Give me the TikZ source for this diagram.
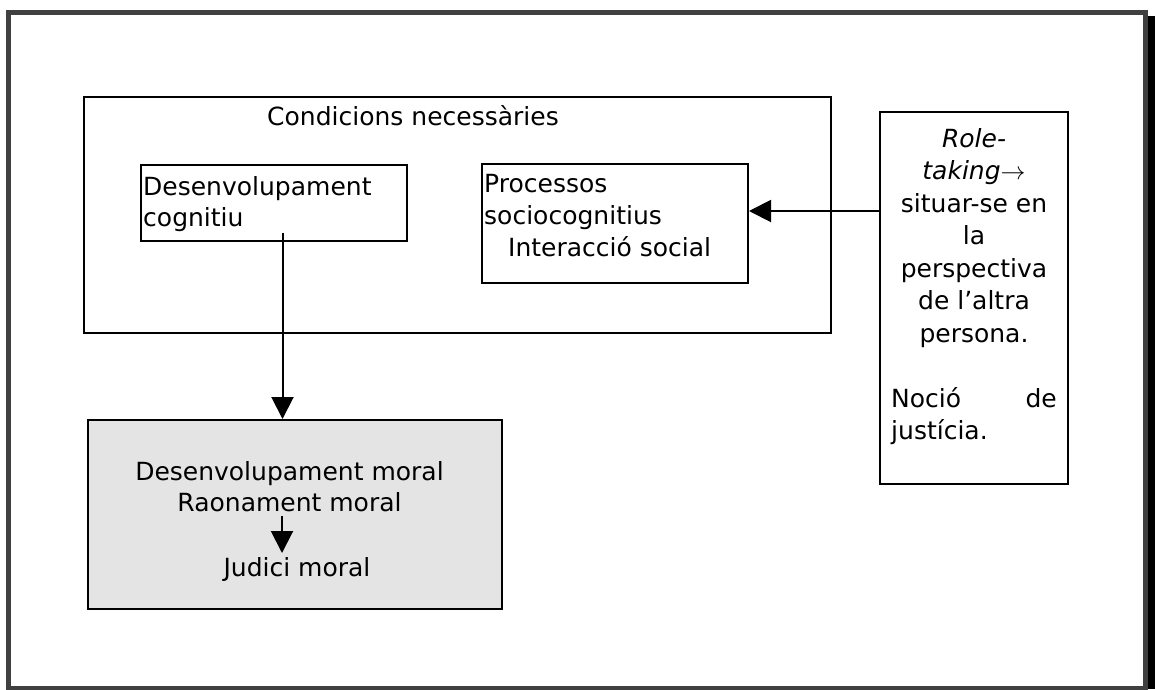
\documentclass[tikz,border=0pt]{standalone}
\usepackage{fontspec}
\setmainfont{DejaVu Sans}
\usetikzlibrary{arrows.meta,calc}
\definecolor{framegray}{HTML}{404040}
\definecolor{boxgray}{HTML}{E4E4E4}

\begin{document}
\begin{tikzpicture}[x=1pt,y=-1pt,
  box/.style={draw=black,line width=2pt,inner sep=0pt},
  txt/.style={inner sep=0pt,font=\fontsize{25}{32}\selectfont,anchor=base west},
  ctxt/.style={txt,anchor=base},
  etxt/.style={txt,anchor=base east},
  arr/.style={line width=2pt,-{Triangle[length=22pt,width=22pt]}}]

\useasboundingbox (0,0) rectangle (1155,689);

% page frame with its dark shadow on the right
\draw[framegray,line width=5pt] (8.5,12.5) rectangle (1145,688.5);
\fill[black] (1147.5,15.7) rectangle (1155,689);

% necessary conditions
\node[box,minimum width=747pt,minimum height=236pt] (cond) at (457.5,215) {};
\node[txt] (condt) at (267,125) {Condicions necessàries};

\node[box,minimum width=266pt,minimum height=76pt] (cog) at (274,203) {};
\node[txt] (cog1) at (143,195) {Desenvolupament};
\node[txt] (cog2) at (143,226) {cognitiu};

\node[box,minimum width=266pt,minimum height=119pt] (proc) at (615,223.5) {};
\node[txt] (proc1) at (484,192) {Processos};
\node[txt] (proc2) at (484,224) {sociocognitius};
\node[txt] (proc3) at (508,256) {Interacció social};

% role-taking
\node[box,minimum width=188pt,minimum height=372pt] (role) at (974,298) {};
\node[ctxt] (role1) at (974,147) {\itshape Role-};
\node[ctxt] (role2) at (974,179.5) {\textit{taking}$\rightarrow$};
\node[ctxt] (role3) at (974,212) {situar-se en};
\node[ctxt] (role4) at (974,244.5) {la};
\node[ctxt] (role5) at (974,277) {perspectiva};
\node[ctxt] (role6) at (974,309.5) {de l’altra};
\node[ctxt] (role7) at (974,342) {persona.};
\node[txt] (role8a) at (891,407) {Noció};
\node[etxt] (role8b) at (1057,407) {de};
\node[txt] (role9) at (891,439.5) {justícia.};

% moral development
\node[box,fill=boxgray,minimum width=414pt,minimum height=189pt] (moral) at (295,514.5) {};
\node[ctxt] (mor1) at (289.5,480) {Desenvolupament moral};
\node[ctxt] (mor2) at (289.5,511) {Raonament moral};
\node[ctxt] (mor3) at (297,576) {Judici moral};

% connectors
\coordinate (cogout) at (282.5,233);
\draw[arr] (cogout) -- (cogout |- moral.north);
\draw[arr] (role.west |- 0,211) -- (proc.east |- 0,211);
\coordinate (raoout) at (282,516);
\coordinate (judin) at (282,553);
\draw[arr] (raoout) -- (judin);
\end{tikzpicture}
\end{document}
